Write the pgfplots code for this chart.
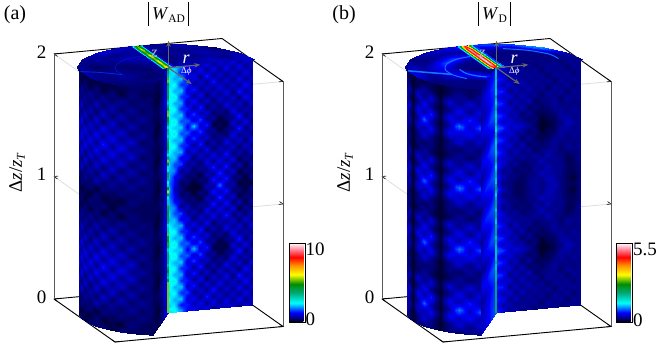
\documentclass[border=0pt]{standalone}
\usepackage{fontspec}
\setmainfont{Liberation Serif}
\usepackage{pgfplots}
\usepackage{pgfplotstable}
\pgfplotsset{compat=1.18}
\usepgfplotslibrary{patchplots}
\usetikzlibrary{arrows.meta}
\newcommand*\szA{\fontsize{19}{21}\selectfont}
\pgfplotsset{table/x index=0,table/y index=0,table/z index=0,table/meta index=0}
\pgfplotsset{colormap={wd}{[1pt]
 rgb255(0pt)=(0,0,0); rgb255(4pt)=(0,0,110); rgb255(12pt)=(0,0,255); rgb255(24pt)=(0,255,255);
 rgb255(37pt)=(0,170,120); rgb255(48pt)=(0,140,0); rgb255(60pt)=(255,255,0); rgb255(72pt)=(255,140,0);
 rgb255(82pt)=(255,0,0); rgb255(93pt)=(255,150,170); rgb255(100pt)=(255,255,255)}}
% values below are in sixtieths of the colour scale
\pgfplotstableread[row sep=\\,header=false]{
14\\13\\11\\5\\8\\4\\7\\3\\6\\4\\7\\3\\6\\4\\
13\\14\\7\\8\\4\\7\\3\\7\\3\\7\\3\\7\\3\\6\\
15\\12\\13\\5\\7\\3\\8\\3\\6\\3\\6\\3\\7\\3\\
13\\15\\8\\9\\3\\6\\3\\8\\3\\6\\3\\7\\3\\6\\
16\\12\\13\\5\\8\\3\\6\\3\\7\\3\\6\\3\\8\\3\\
14\\16\\8\\8\\3\\7\\2\\6\\3\\7\\2\\8\\3\\6\\
16\\12\\12\\4\\8\\3\\6\\2\\6\\3\\6\\2\\8\\3\\
14\\15\\8\\8\\3\\8\\2\\5\\2\\7\\3\\6\\2\\7\\
15\\12\\13\\5\\9\\4\\6\\2\\4\\2\\7\\3\\5\\3\\
13\\16\\9\\10\\5\\9\\3\\4\\1\\3\\3\\8\\2\\6\\
15\\13\\13\\6\\13\\5\\8\\1\\2\\1\\6\\3\\7\\2\\
13\\16\\9\\10\\5\\9\\3\\4\\1\\3\\3\\8\\2\\6\\
15\\12\\13\\5\\9\\4\\6\\2\\4\\2\\7\\3\\5\\3\\
14\\15\\8\\8\\3\\8\\2\\5\\2\\7\\3\\6\\2\\7\\
15\\12\\12\\4\\7\\3\\7\\2\\5\\3\\6\\2\\6\\3\\
12\\13\\6\\7\\2\\6\\3\\7\\3\\8\\2\\5\\2\\6\\
14\\9\\9\\3\\5\\2\\7\\3\\7\\3\\7\\1\\4\\2\\
12\\11\\3\\5\\2\\4\\3\\8\\3\\8\\2\\5\\1\\5\\
13\\7\\5\\2\\3\\1\\5\\3\\9\\3\\6\\1\\3\\2\\
11\\7\\2\\3\\1\\3\\2\\8\\4\\8\\2\\3\\1\\4\\
14\\5\\3\\1\\1\\1\\5\\3\\11\\3\\5\\1\\2\\1\\
11\\7\\2\\3\\1\\3\\2\\8\\4\\8\\2\\3\\1\\4\\
13\\7\\5\\2\\3\\1\\5\\3\\9\\3\\6\\1\\3\\2\\
12\\11\\3\\5\\2\\4\\3\\8\\3\\8\\2\\5\\1\\5\\
14\\9\\9\\3\\5\\2\\7\\3\\7\\3\\7\\1\\4\\2\\
12\\13\\6\\7\\2\\6\\3\\7\\3\\8\\2\\5\\2\\6\\
15\\12\\12\\4\\7\\3\\7\\2\\5\\3\\6\\2\\6\\3\\
14\\15\\8\\8\\3\\8\\2\\5\\2\\7\\3\\6\\2\\7\\
15\\12\\13\\5\\9\\4\\6\\2\\4\\2\\7\\3\\5\\3\\
13\\16\\9\\10\\5\\9\\3\\4\\1\\3\\3\\8\\2\\6\\
15\\13\\13\\6\\13\\5\\8\\1\\2\\1\\6\\3\\7\\2\\
13\\16\\9\\10\\5\\9\\3\\4\\1\\3\\3\\8\\2\\6\\
15\\12\\13\\5\\9\\4\\6\\2\\4\\2\\7\\3\\5\\3\\
14\\15\\8\\8\\3\\8\\2\\5\\2\\7\\3\\6\\2\\7\\
16\\12\\12\\4\\8\\3\\6\\2\\6\\3\\6\\2\\8\\3\\
14\\16\\8\\8\\3\\7\\2\\6\\3\\7\\2\\8\\3\\6\\
16\\12\\13\\5\\8\\3\\6\\3\\7\\3\\6\\3\\8\\3\\
13\\15\\8\\9\\3\\6\\3\\8\\3\\6\\3\\7\\3\\6\\
15\\12\\13\\5\\7\\3\\8\\3\\6\\3\\6\\3\\7\\3\\
13\\14\\7\\8\\4\\7\\3\\7\\3\\7\\3\\7\\3\\6\\
16\\15\\12\\6\\8\\4\\7\\3\\6\\4\\7\\3\\6\\4\\
}\tabAright
\pgfplotstableread[row sep=\\,header=false]{
2\\1\\2\\1\\2\\1\\2\\1\\2\\2\\2\\2\\
1\\3\\1\\3\\1\\3\\1\\3\\1\\3\\2\\2\\
4\\1\\4\\2\\4\\2\\4\\2\\4\\2\\3\\2\\
2\\5\\2\\4\\2\\5\\2\\5\\2\\4\\2\\3\\
5\\2\\6\\2\\5\\2\\6\\2\\5\\2\\4\\2\\
2\\6\\2\\6\\2\\6\\2\\6\\2\\5\\2\\3\\
6\\2\\7\\2\\6\\3\\7\\3\\6\\2\\4\\2\\
3\\6\\3\\7\\3\\7\\3\\7\\3\\6\\2\\3\\
6\\3\\7\\3\\7\\3\\8\\3\\7\\3\\4\\2\\
3\\6\\3\\7\\3\\7\\3\\7\\3\\6\\2\\3\\
6\\2\\7\\2\\6\\3\\7\\3\\6\\2\\4\\2\\
2\\6\\2\\6\\2\\6\\2\\6\\2\\5\\2\\3\\
5\\2\\6\\2\\5\\2\\6\\2\\5\\2\\4\\2\\
2\\4\\2\\4\\2\\5\\2\\4\\2\\4\\2\\3\\
3\\1\\3\\2\\3\\1\\3\\2\\3\\2\\3\\2\\
1\\3\\1\\2\\1\\3\\1\\2\\1\\3\\2\\2\\
3\\1\\3\\1\\3\\2\\3\\1\\3\\2\\2\\2\\
1\\3\\1\\3\\1\\3\\1\\3\\1\\3\\2\\2\\
4\\1\\4\\2\\4\\2\\4\\2\\4\\2\\3\\2\\
2\\5\\2\\4\\2\\5\\2\\5\\2\\4\\2\\3\\
5\\2\\6\\2\\5\\2\\6\\2\\5\\2\\4\\2\\
2\\6\\2\\6\\2\\6\\2\\6\\2\\5\\2\\3\\
6\\2\\7\\2\\6\\3\\7\\3\\6\\2\\4\\2\\
3\\6\\3\\7\\3\\7\\3\\7\\3\\6\\2\\3\\
6\\3\\7\\3\\7\\3\\8\\3\\7\\3\\4\\2\\
3\\6\\3\\7\\3\\7\\3\\7\\3\\6\\2\\3\\
6\\2\\7\\2\\6\\3\\7\\3\\6\\2\\4\\2\\
2\\6\\2\\6\\2\\6\\2\\6\\2\\5\\2\\3\\
5\\2\\6\\2\\5\\2\\6\\2\\5\\2\\4\\2\\
2\\4\\2\\4\\2\\5\\2\\4\\2\\4\\2\\3\\
3\\1\\3\\2\\3\\1\\3\\2\\3\\2\\3\\2\\
1\\3\\1\\2\\1\\3\\1\\2\\1\\3\\2\\2\\
3\\1\\3\\1\\3\\2\\3\\1\\3\\2\\2\\2\\
}\tabAouter
\pgfplotstableread[row sep=\\,header=false]{
2\\2\\3\\7\\ 2\\1\\3\\8\\ 2\\2\\4\\8\\ 2\\1\\3\\7\\ 2\\2\\3\\8\\ 2\\1\\3\\7\\
2\\2\\4\\8\\ 2\\1\\3\\7\\ 2\\2\\3\\7\\ 2\\1\\3\\8\\ 2\\2\\4\\7\\ 2\\1\\3\\7\\
2\\2\\3\\8\\ 2\\1\\3\\7\\ 2\\2\\4\\8\\ 2\\1\\3\\8\\ 2\\2\\3\\8\\
}\tabAcut
\pgfplotstableread[row sep=\\,header=false]{
4\\4\\4\\4\\4\\4\\4\\4\\4\\4\\4\\4\\4\\
3\\3\\3\\2\\3\\3\\4\\3\\3\\3\\4\\5\\6\\
3\\2\\3\\3\\2\\3\\4\\5\\3\\3\\4\\4\\5\\
3\\3\\4\\3\\3\\3\\5\\4\\3\\4\\3\\5\\5\\
2\\3\\3\\3\\2\\4\\3\\4\\4\\3\\5\\3\\5\\
3\\2\\3\\5\\4\\3\\6\\5\\3\\5\\2\\5\\6\\
}\tabAtop
\pgfplotstableread[row sep=\\,header=false]{
4\\24\\31\\26\\4\\ 4\\26\\36\\26\\4\\ 4\\26\\31\\26\\4\\ 4\\26\\38\\26\\4\\
4\\27\\32\\27\\4\\ 4\\27\\38\\27\\4\\ 5\\27\\34\\27\\6\\ 8\\26\\44\\26\\8\\
}\tabAstreak
\pgfplotstableread[row sep=\\,header=false]{
30\\20\\16\\24\\38\\24\\16\\15\\16\\24\\38\\24\\24\\38\\28\\38\\30\\38\\24\\16\\15\\14\\15\\24\\38\\24\\24\\
36\\18\\24\\36\\20\\15\\14\\24\\34\\20\\14\\13\\28\\46\\28\\13\\14\\24\\34\\20\\15\\16\\24\\38\\24\\16\\24\\
38\\28\\38\\38\\24\\16\\15\\15\\24\\38\\24\\16\\24\\36\\20\\24\\36\\18\\15\\16\\24\\34\\20\\18\\20\\30\\46\\
}\tabAseam
% panel b
\pgfplotstableread[row sep=\\,header=false]{
6\\7\\3\\5\\3\\4\\2\\4\\3\\4\\2\\4\\3\\4\\
7\\4\\5\\3\\4\\3\\4\\2\\4\\3\\4\\2\\4\\3\\
8\\7\\3\\5\\3\\4\\3\\4\\2\\4\\3\\4\\2\\4\\
7\\4\\6\\3\\5\\3\\4\\3\\4\\2\\4\\3\\4\\3\\
8\\8\\3\\5\\3\\5\\3\\4\\2\\4\\3\\4\\2\\4\\
7\\5\\6\\3\\5\\3\\4\\2\\4\\3\\4\\2\\4\\3\\
9\\8\\3\\5\\3\\5\\2\\3\\3\\4\\2\\4\\3\\4\\
7\\5\\6\\3\\5\\2\\3\\2\\3\\4\\3\\3\\3\\3\\
9\\8\\4\\5\\2\\4\\2\\2\\2\\3\\4\\3\\4\\3\\
8\\5\\6\\4\\4\\2\\3\\1\\2\\2\\4\\4\\3\\4\\
10\\9\\5\\6\\5\\4\\2\\1\\1\\2\\3\\5\\4\\3\\
8\\5\\6\\4\\4\\2\\3\\1\\2\\2\\4\\4\\3\\4\\
9\\8\\4\\5\\2\\4\\2\\2\\2\\3\\4\\3\\4\\3\\
7\\5\\6\\3\\5\\2\\3\\2\\3\\4\\3\\3\\3\\3\\
9\\7\\3\\5\\3\\4\\2\\3\\3\\4\\2\\4\\3\\4\\
7\\5\\5\\3\\4\\3\\4\\3\\5\\3\\3\\2\\3\\3\\
8\\6\\3\\4\\2\\3\\3\\5\\3\\4\\3\\2\\2\\4\\
7\\3\\4\\2\\3\\2\\4\\3\\5\\3\\4\\2\\2\\3\\
8\\5\\3\\3\\2\\3\\3\\5\\4\\4\\3\\2\\2\\3\\
7\\3\\3\\2\\2\\3\\4\\3\\5\\4\\3\\2\\1\\3\\
10\\5\\3\\2\\2\\3\\4\\3\\4\\5\\3\\2\\2\\3\\
7\\3\\3\\2\\2\\3\\4\\3\\5\\4\\3\\2\\1\\3\\
8\\5\\3\\3\\2\\3\\3\\5\\4\\4\\3\\2\\2\\3\\
7\\3\\4\\2\\3\\2\\4\\3\\5\\3\\4\\2\\2\\3\\
8\\6\\3\\4\\2\\3\\3\\5\\3\\4\\3\\2\\2\\4\\
7\\5\\5\\3\\4\\3\\4\\3\\5\\3\\3\\2\\3\\3\\
9\\7\\3\\5\\3\\4\\2\\3\\3\\4\\2\\4\\3\\4\\
7\\5\\6\\3\\5\\2\\3\\2\\3\\4\\3\\3\\3\\3\\
9\\8\\4\\5\\2\\4\\2\\2\\2\\3\\4\\3\\4\\3\\
8\\5\\6\\4\\4\\2\\3\\1\\2\\2\\4\\4\\3\\4\\
10\\9\\5\\6\\5\\4\\2\\1\\1\\2\\3\\5\\4\\3\\
8\\5\\6\\4\\4\\2\\3\\1\\2\\2\\4\\4\\3\\4\\
9\\8\\4\\5\\2\\4\\2\\2\\2\\3\\4\\3\\4\\3\\
7\\5\\6\\3\\5\\2\\3\\2\\3\\4\\3\\3\\3\\3\\
9\\8\\3\\5\\3\\5\\2\\3\\3\\4\\2\\4\\3\\4\\
7\\5\\6\\3\\5\\3\\4\\2\\4\\3\\4\\2\\4\\3\\
8\\8\\3\\5\\3\\5\\3\\4\\2\\4\\3\\4\\2\\4\\
7\\4\\6\\3\\5\\3\\4\\3\\4\\2\\4\\3\\4\\3\\
8\\7\\3\\5\\3\\4\\3\\4\\2\\4\\3\\4\\2\\4\\
7\\4\\5\\3\\4\\3\\4\\2\\4\\3\\4\\2\\4\\3\\
9\\7\\3\\5\\3\\4\\2\\4\\3\\4\\2\\4\\3\\4\\
}\tabBright
\pgfplotstableread[row sep=\\,header=false]{
2\\1\\2\\1\\2\\1\\2\\1\\2\\2\\2\\2\\
2\\4\\2\\1\\2\\4\\2\\1\\2\\4\\2\\4\\
6\\2\\5\\1\\6\\3\\6\\1\\6\\3\\6\\3\\
3\\6\\2\\1\\3\\7\\3\\1\\3\\7\\3\\7\\
7\\3\\6\\1\\7\\4\\8\\1\\7\\4\\8\\4\\
3\\7\\3\\1\\4\\10\\4\\1\\4\\11\\5\\10\\
6\\3\\5\\1\\6\\4\\7\\1\\7\\5\\7\\4\\
2\\5\\2\\1\\3\\6\\3\\1\\3\\6\\3\\6\\
4\\2\\3\\1\\3\\2\\3\\1\\3\\2\\4\\2\\
2\\4\\2\\1\\2\\4\\2\\1\\2\\4\\2\\4\\
6\\2\\5\\1\\6\\3\\6\\1\\6\\3\\6\\3\\
3\\6\\2\\1\\3\\7\\3\\1\\3\\7\\3\\7\\
7\\3\\6\\1\\7\\4\\8\\1\\7\\4\\8\\4\\
3\\7\\3\\1\\4\\10\\4\\1\\4\\11\\5\\10\\
6\\3\\5\\1\\6\\4\\7\\1\\7\\5\\7\\4\\
2\\5\\2\\1\\3\\6\\3\\1\\3\\6\\3\\6\\
4\\2\\3\\1\\3\\2\\3\\1\\3\\2\\4\\2\\
2\\4\\2\\1\\2\\4\\2\\1\\2\\4\\2\\4\\
6\\2\\5\\1\\6\\3\\6\\1\\6\\3\\6\\3\\
3\\6\\2\\1\\3\\7\\3\\1\\3\\7\\3\\7\\
7\\3\\6\\1\\7\\4\\8\\1\\7\\4\\8\\4\\
3\\7\\3\\1\\4\\10\\4\\1\\4\\11\\5\\10\\
6\\3\\5\\1\\6\\4\\7\\1\\7\\5\\7\\4\\
2\\5\\2\\1\\3\\6\\3\\1\\3\\6\\3\\6\\
4\\2\\3\\1\\3\\2\\3\\1\\3\\2\\4\\2\\
2\\4\\2\\1\\2\\4\\2\\1\\2\\4\\2\\4\\
6\\2\\5\\1\\6\\3\\6\\1\\6\\3\\6\\3\\
3\\6\\2\\1\\3\\7\\3\\1\\3\\7\\3\\7\\
7\\3\\6\\1\\7\\4\\8\\1\\7\\4\\8\\4\\
3\\7\\3\\1\\4\\10\\4\\1\\4\\11\\5\\10\\
6\\3\\5\\1\\6\\4\\7\\1\\7\\5\\7\\4\\
2\\5\\2\\1\\3\\6\\3\\1\\3\\6\\3\\6\\
4\\2\\3\\1\\3\\2\\3\\1\\3\\2\\4\\2\\
}\tabBouter
\pgfplotstableread[row sep=\\,header=false]{
3\\4\\6\\8\\ 5\\6\\8\\9\\ 3\\5\\7\\9\\ 6\\7\\9\\10\\ 3\\4\\6\\8\\ 6\\7\\9\\10\\
3\\5\\7\\9\\ 6\\8\\9\\10\\ 3\\5\\6\\9\\ 6\\8\\9\\10\\ 3\\5\\7\\9\\ 5\\7\\9\\10\\
3\\4\\6\\8\\ 6\\7\\9\\10\\ 3\\5\\7\\9\\ 5\\6\\8\\9\\ 5\\6\\8\\10\\
}\tabBcut
\pgfplotstableread[row sep=\\,header=false]{
5\\5\\5\\5\\5\\5\\5\\5\\5\\5\\5\\5\\5\\
3\\3\\3\\2\\3\\3\\4\\3\\3\\3\\4\\3\\4\\
8\\8\\7\\5\\3\\3\\3\\3\\3\\3\\3\\3\\3\\
3\\3\\6\\6\\7\\9\\9\\6\\3\\3\\3\\3\\3\\
3\\3\\3\\4\\4\\3\\4\\4\\5\\3\\3\\3\\3\\
3\\3\\3\\8\\5\\3\\5\\7\\9\\9\\12\\5\\3\\
}\tabBtop
\pgfplotstableread[row sep=\\,header=false]{
8\\22\\38\\50\\38\\22\\8\\ 8\\24\\46\\58\\46\\24\\8\\ 8\\24\\46\\56\\46\\24\\8\\ 8\\24\\46\\58\\48\\26\\8\\
8\\26\\48\\60\\48\\26\\8\\ 8\\26\\48\\60\\48\\26\\8\\ 8\\26\\48\\58\\48\\26\\10\\ 10\\24\\42\\48\\42\\24\\10\\
}\tabBstreak
\pgfplotstableread[row sep=\\,header=false]{
20\\16\\18\\22\\16\\20\\24\\18\\16\\22\\26\\18\\20\\24\\18\\16\\22\\18\\24\\20\\16\\18\\22\\26\\20\\16\\22\\
18\\24\\16\\20\\26\\18\\16\\22\\20\\16\\18\\24\\28\\20\\16\\18\\24\\22\\26\\18\\16\\24\\28\\20\\18\\26\\22\\
28\\18\\26\\24\\18\\16\\20\\24\\18\\26\\20\\16\\24\\20\\26\\18\\16\\22\\18\\24\\20\\18\\22\\18\\24\\28\\26\\
}\tabBseam
\pgfplotsset{
 wdaxis/.style={
  x={(168pt,15.5pt)}, y={(61pt,-43pt)}, z={(0pt,122.5pt)},
  xmin=0,xmax=1,ymin=0,ymax=1,zmin=0,zmax=2,
  anchor=origin, clip=false,
  xtick=\empty, ytick=\empty, ztick={0,1,2},
  axis line style={draw=none},
  zmajorgrids, major grid style={draw=black!13,line width=0.8pt},
  /pgf/number format/assume math mode=true,
  tick label style={font=\szA,xshift=-4pt},
  ztick style={draw=black,line width=0.6pt},
  colormap name=wd,
  colorbar,
  colorbar style={at={(parent axis.origin)},anchor=south west,xshift=226.5pt,yshift=-23pt,
    scale only axis,width=16pt,height=79pt,ytick pos=right,
    axis line style={draw=black,line width=0.7pt},
    major tick length=0pt,tick label style={font=\szA,xshift=-3pt},
    point meta min=0},
  every axis z label/.style={at={(axis cs:0,0,1)},anchor=center,xshift=-37pt,yshift=4pt,rotate=90,font=\szA},
  zlabel={Δ\textit{z}/\textit{z}\raisebox{-3pt}{\fontsize{12}{12}\selectfont\textit{T}}},
 },
 wdbox/.style={black,line width=0.9pt,no marks,forget plot},
 wdside/.style={draw=black!65,line width=1pt,no marks,forget plot},
 wdsurf/.style={surf,shader=interp,patch type=bilinear,forget plot,point meta=explicit,mesh/ordering=x varies},
 wdline/.style={line width=#1,no marks,smooth,forget plot},
}
\newcommand\wdframe{
  \addplot3[wdbox] coordinates {(0,0,2) (1,0,2) (1,1,2)};
  \addplot3[wdbox] coordinates {(0,0,0) (0,1,0) (1,1,0) (1,0,0) (0,0,0)};
  \addplot3[wdside] coordinates {(0,0,0) (0,0,2)};
  \addplot3[wdside] coordinates {(1,1,0) (1,1,2)};
}
\newcommand\wdsurfaces[5]{% right, outer, cut, top, scale
  \addplot3[wdsurf,mesh/cols=13] table[x expr={0.5+0.102*floor((\coordindex+0.5)/13)*cos(120+20*mod(\coordindex,13))},
    y expr={0.5+0.102*floor((\coordindex+0.5)/13)*sin(120+20*mod(\coordindex,13))}, z expr={2}, meta expr={\thisrowno{0}*#5/60}] {#4};
  \addplot3[wdsurf,mesh/cols=14] table[x expr={0.5+0.5*mod(\coordindex,14)/13}, y expr={0.5},
    z expr={2-2*floor((\coordindex+0.5)/14)/40}, meta expr={\thisrowno{0}*#5/60}] {#1};
  \addplot3[wdsurf,mesh/cols=4] table[x expr={0.5-0.25*(1-mod(\coordindex,4)/3)}, y expr={0.5+0.433*(1-mod(\coordindex,4)/3)},
    z expr={2-2*floor((\coordindex+0.5)/4)/16}, meta expr={\thisrowno{0}*#5/60}] {#3};
  \addplot3[wdsurf,mesh/cols=12] table[x expr={0.5+0.5*cos(200-80*mod(\coordindex,12)/11)}, y expr={0.5+0.5*sin(200-80*mod(\coordindex,12)/11)},
    z expr={2-2*floor((\coordindex+0.5)/12)/32}, meta expr={\thisrowno{0}*#5/60}] {#2};
}
\newcommand\wdarrows{
  \draw[-{Stealth[length=6pt]},black!60,line width=1.2pt] (axis cs:0.5,0.5,2) -- (axis cs:0.5,0.5,2.22);
  \draw[-{Stealth[length=6pt]},black!60,line width=1.2pt] (axis cs:0.5,0.5,2) -- (axis cs:0.69,0.5,2);
  \draw[-{Stealth[length=6pt]},black!60,line width=1.2pt] (axis cs:0.5,0.5,2) -- (axis cs:0.5,0.88,2);
  \node[text=black!30,font=\fontsize{16}{16}\selectfont\itshape] at (axis cs:0.44,0.43,2.1) {z};
  \node[text=white,font=\fontsize{18}{18}\selectfont\itshape] at (axis cs:0.63,0.43,2.03) {r};
  \node[text=white,font=\fontsize{9}{9}\selectfont] at (axis cs:0.57,0.6,2) {Δ\textit{ϕ}};
}
\begin{document}
\begin{tikzpicture}
\useasboundingbox (0pt,0pt) rectangle (664pt,347pt);
% ---------- panel a
\begin{axis}[wdaxis, at={(54pt,48pt)}, point meta min=0, point meta max=10,
  colorbar style={ytick={0.3,9.2},yticklabels={0,10},point meta max=10}]
\wdframe
\wdsurfaces{\tabAright}{\tabAouter}{\tabAcut}{\tabAtop}{10}
\addplot3[wdline=0.6pt,color={rgb,255:red,0;green,20;blue,190}] table[row sep=\\,x expr={0.5+\thisrowno{0}*cos(\thisrowno{1})},y expr={0.5+\thisrowno{0}*sin(\thisrowno{1})},z expr={2}] {0.3 165\\0.3 190\\0.3 215\\0.3 240\\0.3 265\\};
\addplot3[wdline=0.9pt,color={rgb,255:red,0;green,40;blue,220}] table[row sep=\\,x expr={0.5+\thisrowno{0}*cos(\thisrowno{1})},y expr={0.5+\thisrowno{0}*sin(\thisrowno{1})},z expr={2}] {0.5 190\\0.4 185\\0.3 170\\};
\addplot3[wdsurf,mesh/cols=5] table[x expr={0.5+(mod(\coordindex,5)-2)*0.018}, y expr={0.5*floor((\coordindex+0.5)/5)/7}, z expr={2}, meta expr={\thisrowno{0}/6}] {\tabAstreak};
\addplot3[mesh,line width=2.6pt,forget plot,point meta=explicit] table[x expr={0.498}, y expr={0.5}, z expr={2-2*\coordindex/80}, meta expr={\thisrowno{0}/6}] {\tabAseam};
\wdarrows
\end{axis}
% ---------- panel b
\begin{axis}[wdaxis, at={(382pt,48pt)}, point meta min=0, point meta max=5.5,
  colorbar style={xshift=-0.5pt,ytick={0.15,5.05},yticklabels={0,5.5},point meta max=5.5}]
\wdframe
\wdsurfaces{\tabBright}{\tabBouter}{\tabBcut}{\tabBtop}{5.5}
\addplot3[wdline=1pt,color={rgb,255:red,20;green,110;blue,255}] table[row sep=\\,x expr={0.5+\thisrowno{0}*cos(\thisrowno{1})},y expr={0.5+\thisrowno{0}*sin(\thisrowno{1})},z expr={2}] {0.29 145\\0.29 165\\0.29 190\\0.29 215\\0.29 240\\0.29 265\\};
\addplot3[wdline=1.1pt,color={rgb,255:red,20;green,120;blue,255}] table[row sep=\\,x expr={0.5+\thisrowno{0}*cos(\thisrowno{1})},y expr={0.5+\thisrowno{0}*sin(\thisrowno{1})},z expr={2}] {0.21 125\\0.21 145\\0.21 165\\0.21 190\\};
\addplot3[wdline=1.5pt,color={rgb,255:red,20;green,120;blue,255}] table[row sep=\\,x expr={0.5+\thisrowno{0}*cos(\thisrowno{1})},y expr={0.5+\thisrowno{0}*sin(\thisrowno{1})},z expr={2}] {0.5 192\\0.4 185\\0.29 170\\};
\addplot3[wdline=1pt,color={rgb,255:red,20;green,110;blue,255}] table[row sep=\\,x expr={0.5+\thisrowno{0}*cos(\thisrowno{1})},y expr={0.5+\thisrowno{0}*sin(\thisrowno{1})},z expr={2}] {0.42 295\\0.42 315\\0.42 335\\0.4 350\\};
\addplot3[wdsurf,mesh/cols=7] table[x expr={0.5+(mod(\coordindex,7)-3)*0.016}, y expr={0.5*floor((\coordindex+0.5)/7)/7}, z expr={2}, meta expr={\thisrowno{0}*5.5/60}] {\tabBstreak};
\addplot3[mesh,line width=1.8pt,forget plot,point meta=explicit] table[x expr={0.498}, y expr={0.5}, z expr={2-2*\coordindex/80}, meta expr={\thisrowno{0}*5.5/60}] {\tabBseam};
\wdarrows
\end{axis}
% ---------- titles and panel letters
\node[font=\fontsize{20}{22}\selectfont] at (15pt,332pt) {(a)};
\node[font=\fontsize{20}{22}\selectfont] at (344pt,332pt) {(b)};
\node[font=\fontsize{18}{20}\selectfont] at (168.5pt,333pt) {\rule[-6pt]{0.7pt}{24pt}\,\textit{W}\raisebox{-3pt}{\fontsize{11.5}{12}\selectfont AD}\,\rule[-6pt]{0.7pt}{24pt}};
\node[font=\fontsize{18}{20}\selectfont] at (494.5pt,333pt) {\rule[-6pt]{0.7pt}{24pt}\,\textit{W}\raisebox{-3pt}{\fontsize{11.5}{12}\selectfont D}\,\rule[-6pt]{0.7pt}{24pt}};
\end{tikzpicture}
\end{document}
